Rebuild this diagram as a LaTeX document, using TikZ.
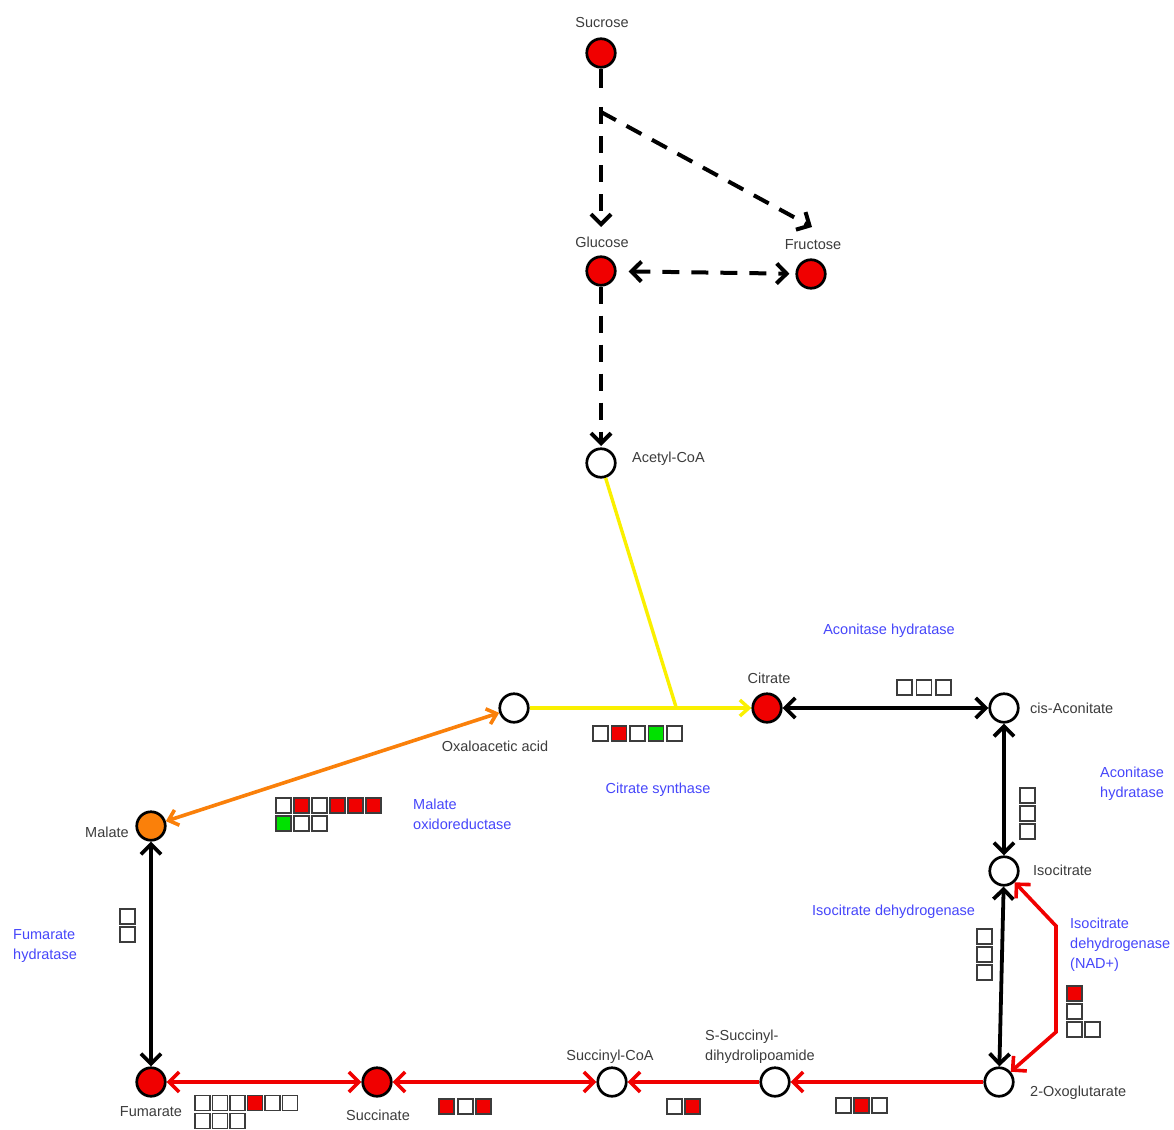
\documentclass[tikz,border=0pt]{standalone}
\usepackage{fontspec}
\setmainfont{Liberation Sans}
\usetikzlibrary{arrows.meta}
\definecolor{lbl}{RGB}{60,60,60}
\definecolor{enz}{RGB}{70,70,250}
\definecolor{ylw}{RGB}{250,240,0}
\definecolor{org}{RGB}{250,128,10}
\definecolor{rd}{RGB}{240,0,0}
\definecolor{grn}{RGB}{0,225,0}
\definecolor{bxline}{RGB}{60,60,60}
\newcommand\bx[3]{\filldraw[bxs,fill=#3] (#1,#2) rectangle ++(15,15);}
\begin{document}
\begin{tikzpicture}[x=1pt,y=-1pt,
  met/.style={circle,draw=black,line width=2.7pt,minimum size=28.5pt,inner sep=0pt},
  lab/.style={text=lbl,font=\fontsize{14.5}{20}\selectfont,inner sep=0pt},
  enzl/.style={text=enz,font=\fontsize{14.5}{20}\selectfont,inner sep=0pt,align=left},
  bxs/.style={draw=bxline,line width=1.2pt},
  tip/.style={-{Straight Barb[length=10pt,width=20pt]}},
  tips/.style={{Straight Barb[length=10pt,width=20pt]}-{Straight Barb[length=10pt,width=20pt]}},
  dsh/.style={line width=4pt,black,dash pattern=on 17pt off 12pt},
  blk/.style={line width=3.8pt,black},
  rdl/.style={line width=3.6pt,rd},
  yl/.style={line width=3.4pt,ylw},
  orl/.style={line width=3.6pt,org}]
\path[use as bounding box] (0,0) rectangle (1174,1129);

% metabolites
\node[met,fill=rd] (suc) at (601,53) {};
\node[met,fill=rd] (glc) at (601,271) {};
\node[met,fill=rd] (fru) at (811,274) {};
\node[met,fill=white] (acoa) at (601,463) {};
\node[met,fill=white] (oaa) at (514,708) {};
\node[met,fill=rd] (cit) at (767,708) {};
\node[met,fill=white] (cis) at (1004,708) {};
\node[met,fill=white] (ici) at (1004,871) {};
\node[met,fill=white] (oxo) at (999,1082) {};
\node[met,fill=white] (ssd) at (775,1082) {};
\node[met,fill=white] (sca) at (612,1082) {};
\node[met,fill=rd] (scn) at (377,1082) {};
\node[met,fill=rd] (fum) at (151,1082) {};
\node[met,fill=org] (mal) at (151,826) {};

% metabolite labels
\node[lab] (l-suc) at (602,23) {Sucrose};
\node[lab] (l-glc) at (602,242) {Glucose};
\node[lab] (l-fru) at (813,245) {Fructose};
\node[lab,anchor=west] (l-acoa) at (632,459) {Acetyl-CoA};
\node[lab] (l-oaa) at (495,746) {Oxaloacetic acid};
\node[lab] (l-cit) at (769,678) {Citrate};
\node[lab,anchor=west] (l-cis) at (1030,708) {cis-Aconitate};
\node[lab,anchor=west] (l-ici) at (1033,870) {Isocitrate};
\node[lab,anchor=west] (l-oxo) at (1030,1093) {2-Oxoglutarate};
\node[lab,anchor=west,align=left] (l-ssd) at (705,1047) {S-Succinyl-\\dihydrolipoamide};
\node[lab] (l-sca) at (610,1057) {Succinyl-CoA};
\node[lab] (l-scn) at (378,1115) {Succinate};
\node[lab] (l-fum) at (151,1112) {Fumarate};
\node[lab] (l-mal) at (107,832) {Malate};

% enzyme labels
\node[enzl] (e1) at (889,631) {Aconitase hydratase};
\node[enzl,anchor=west] (e2) at (1100,784) {Aconitase\\hydratase};
\node[enzl] (e3) at (658,790) {Citrate synthase};
\node[enzl,anchor=west] (e4) at (413,814) {Malate\\oxidoreductase};
\node[enzl,anchor=west] (e5) at (13,946) {Fumarate\\hydratase};
\node[enzl,anchor=west] (e6) at (812,912) {Isocitrate dehydrogenase};
\node[enzl,anchor=west] (e7) at (1070,945) {Isocitrate\\dehydrogenase\\(NAD+)};

% sugar reactions
\coordinate (sstub) at (601,88);
\coordinate (sj) at (601,107);
\coordinate (sj2) at (601,112);
\coordinate (glcin) at (601,227);
\coordinate (fruin) at (812,227);
\draw[line width=4pt] (suc) -- (sstub);
\draw[dsh,tip] (sj) -- (glcin);
\draw[dsh,tip] (sj2) -- (fruin);
\draw[dsh,tips,shorten <=12pt,shorten >=6pt] (glc) -- (fru);
\coordinate (acin) at (601,446);
\draw[dsh,tip] (glc) -- (acin);

% citrate synthase
\coordinate (cj) at (676,707);
\draw[yl] (acoa) -- (cj);
\draw[yl,-{Straight Barb[length=9pt,width=16pt]}] (oaa) -- (cit);

% TCA cycle
\draw[blk,tips] (cit) -- (cis);
\draw[blk,tips] (cis) -- (ici);
\draw[blk,tips] (ici) -- (oxo);
\draw[rdl,tips] (ici) -- (1056,926) -- (1056,1032) -- (oxo);
\draw[rdl,tip] (oxo) -- (ssd);
\draw[rdl,tip] (ssd) -- (sca);
\draw[rdl,tips] (sca) -- (scn);
\draw[rdl,tips] (scn) -- (fum);
\draw[blk,tips] (fum) -- (mal);
\draw[orl,{Straight Barb[length=9pt,width=16pt]}-{Straight Barb[length=9pt,width=16pt]}] (oaa) -- (mal);

% enzyme boxes
\bx{593}{726}{white}\bx{611.5}{726}{rd}\bx{630}{726}{white}\bx{648.5}{726}{grn}\bx{667}{726}{white}
\bx{897}{680}{white}\bx{916.5}{680}{white}\bx{936}{680}{white}
\bx{1020}{788}{white}\bx{1020}{806}{white}\bx{1020}{824}{white}
\bx{276}{798}{white}\bx{294}{798}{rd}\bx{312}{798}{white}\bx{330}{798}{rd}\bx{348}{798}{rd}\bx{366}{798}{rd}
\bx{276}{816}{grn}\bx{294}{816}{white}\bx{312}{816}{white}
\bx{120}{909}{white}\bx{120}{927}{white}
\bx{977}{929}{white}\bx{977}{947}{white}\bx{977}{965}{white}
\bx{1067}{986}{rd}\bx{1067}{1004}{white}\bx{1067}{1022}{white}\bx{1085}{1022}{white}
\bx{836}{1098}{white}\bx{854}{1098}{rd}\bx{872}{1098}{white}
\bx{667}{1099}{white}\bx{685}{1099}{rd}
\bx{439}{1099}{rd}\bx{458}{1099}{white}\bx{476}{1099}{rd}
\bx{195}{1095.5}{white}\bx{212.5}{1095.5}{white}\bx{230}{1095.5}{white}\bx{247.5}{1095.5}{rd}\bx{265}{1095.5}{white}\bx{282.5}{1095.5}{white}
\bx{195}{1113.5}{white}\bx{212.5}{1113.5}{white}\bx{230}{1113.5}{white}
\end{tikzpicture}
\end{document}
